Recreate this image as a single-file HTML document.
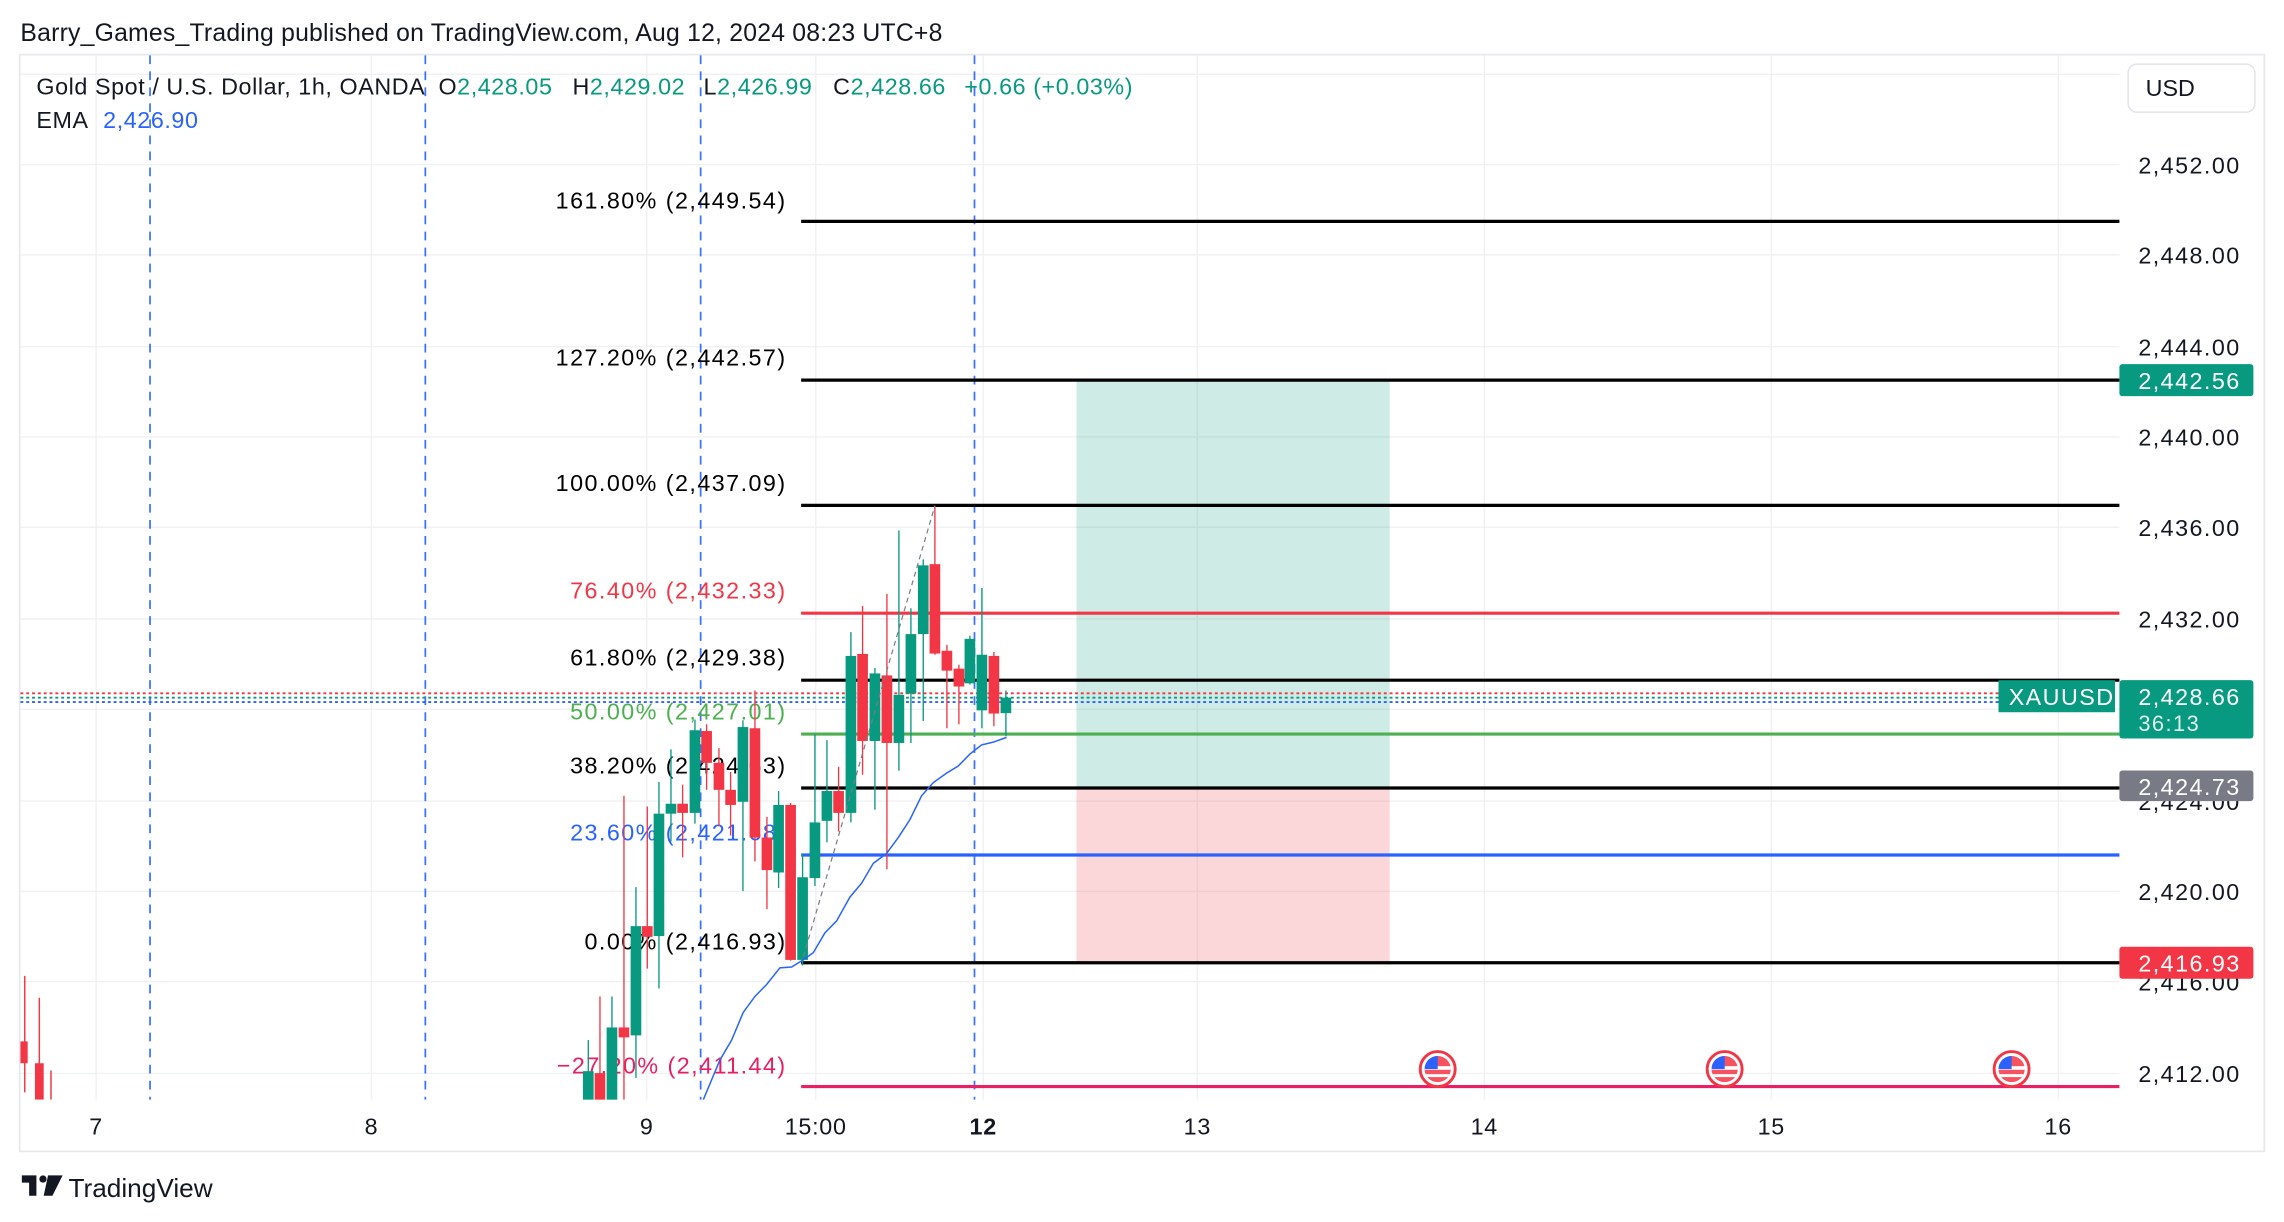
<!DOCTYPE html>
<html><head><meta charset="utf-8"><style>
html,body{margin:0;padding:0;background:#fff;}
svg{display:block;}
text{font-family:"Liberation Sans",sans-serif;}
</style></head><body>
<svg width="2284" height="1222" viewBox="0 0 1568 839" preserveAspectRatio="none" xmlns="http://www.w3.org/2000/svg">
<defs>
<clipPath id="plot"><rect x="14" y="38" width="1441" height="717"/></clipPath>
</defs>
<rect width="1568" height="839" fill="#fff"/>
<text x="14" y="28" font-size="17" fill="#131722" letter-spacing="0.15">Barry_Games_Trading published on TradingView.com, Aug 12, 2024 08:23 UTC+8</text>
<rect x="13.5" y="37.5" width="1541" height="753" fill="none" stroke="#e6e8ee" stroke-width="1.2"/>
<g stroke="#f0f1f3" stroke-width="1">
<line x1="14" x2="1455" y1="51" y2="51"/>
<line x1="14" x2="1455" y1="113" y2="113"/>
<line x1="14" x2="1455" y1="175" y2="175"/>
<line x1="14" x2="1455" y1="238" y2="238"/>
<line x1="14" x2="1455" y1="300" y2="300"/>
<line x1="14" x2="1455" y1="362" y2="362"/>
<line x1="14" x2="1455" y1="425" y2="425"/>
<line x1="14" x2="1455" y1="487" y2="487"/>
<line x1="14" x2="1455" y1="550" y2="550"/>
<line x1="14" x2="1455" y1="612" y2="612"/>
<line x1="14" x2="1455" y1="674" y2="674"/>
<line x1="14" x2="1455" y1="737" y2="737"/>
<line x1="66" x2="66" y1="38" y2="755"/>
<line x1="255" x2="255" y1="38" y2="755"/>
<line x1="444" x2="444" y1="38" y2="755"/>
<line x1="560" x2="560" y1="38" y2="755"/>
<line x1="675" x2="675" y1="38" y2="755"/>
<line x1="822" x2="822" y1="38" y2="755"/>
<line x1="1019" x2="1019" y1="38" y2="755"/>
<line x1="1216" x2="1216" y1="38" y2="755"/>
<line x1="1413" x2="1413" y1="38" y2="755"/>
</g>
<rect x="739" y="261" width="215" height="280" fill="#089981" fill-opacity="0.2"/>
<rect x="739" y="541" width="215" height="120" fill="#f23645" fill-opacity="0.2"/>
<g stroke="#2962ff" stroke-width="1.2" stroke-dasharray="6,5" opacity="0.9">
<line x1="103" x2="103" y1="38" y2="755"/>
<line x1="292" x2="292" y1="38" y2="755"/>
<line x1="481" x2="481" y1="38" y2="755"/>
<line x1="669" x2="669" y1="38" y2="755"/>
</g>
<g stroke-width="2.2">
<line x1="550" x2="1455" y1="152" y2="152" stroke="#000"/>
<line x1="550" x2="1455" y1="261" y2="261" stroke="#000"/>
<line x1="550" x2="1455" y1="347" y2="347" stroke="#000"/>
<line x1="550" x2="1455" y1="421" y2="421" stroke="#f23645"/>
<line x1="550" x2="1455" y1="467" y2="467" stroke="#000"/>
<line x1="550" x2="1455" y1="504" y2="504" stroke="#4caf50"/>
<line x1="550" x2="1455" y1="541" y2="541" stroke="#000"/>
<line x1="550" x2="1455" y1="587" y2="587" stroke="#2962ff"/>
<line x1="550" x2="1455" y1="661" y2="661" stroke="#000"/>
<line x1="550" x2="1455" y1="746" y2="746" stroke="#e91e63"/>
</g>
<g font-size="16" text-anchor="end" letter-spacing="1">
<text x="540" y="143" fill="#000">161.80% (2,449.54)</text>
<text x="540" y="251" fill="#000">127.20% (2,442.57)</text>
<text x="540" y="337" fill="#000">100.00% (2,437.09)</text>
<text x="540" y="411" fill="#f23645">76.40% (2,432.33)</text>
<text x="540" y="457" fill="#000">61.80% (2,429.38)</text>
<text x="540" y="494" fill="#4caf50">50.00% (2,427.01)</text>
<text x="540" y="531" fill="#000">38.20% (2,424.63)</text>
<text x="540" y="577" fill="#2962ff">23.60% (2,421.68)</text>
<text x="540" y="652" fill="#000">0.00% (2,416.93)</text>
<text x="540" y="737" fill="#e91e63">−27.20% (2,411.44)</text>
</g>
<g stroke-width="1.3" stroke-dasharray="2,2" clip-path="url(#plot)">
<line x1="14" x2="1372" y1="476" y2="476" stroke="#f23645"/>
<line x1="14" x2="1372" y1="479" y2="479" stroke="#089981"/>
<line x1="14" x2="1372" y1="482" y2="482" stroke="#2962ff"/>
</g>
<g clip-path="url(#plot)">
<line x1="17" x2="17" y1="670" y2="750" stroke="#f23645" stroke-width="1"/>
<rect x="14" y="715" width="5" height="15" fill="#f23645"/>
<line x1="27" x2="27" y1="685" y2="755" stroke="#f23645" stroke-width="1"/>
<rect x="24" y="730" width="6" height="25" fill="#f23645"/>
<line x1="35" x2="35" y1="735" y2="755" stroke="#f23645" stroke-width="1"/>
</g>
<g clip-path="url(#plot)">
<g transform="translate(370.7,329.5) scale(0.2288,0.2728)">
<g fill="#089981" stroke="#089981">
<line x1="145" x2="145" y1="1410" y2="1600" stroke-width="4"/><rect x="129" y="1488" width="32" height="112" stroke="none"/>
<line x1="216" x2="216" y1="1300" y2="1600" stroke-width="4"/><rect x="200" y="1378" width="32" height="222" stroke="none"/>
<line x1="288" x2="288" y1="1025" y2="1505" stroke-width="4"/><rect x="272" y="1123" width="32" height="275" stroke="none"/>
<line x1="357" x2="357" y1="760" y2="1280" stroke-width="4"/><rect x="341" y="840" width="32" height="308" stroke="none"/>
<line x1="393" x2="393" y1="678" y2="910" stroke-width="4"/><rect x="377" y="815" width="32" height="25" stroke="none"/>
<line x1="465" x2="465" y1="603" y2="865" stroke-width="4"/><rect x="449" y="630" width="32" height="208" stroke="none"/>
<line x1="609" x2="609" y1="605" y2="1035" stroke-width="4"/><rect x="593" y="622" width="32" height="188" stroke="none"/>
<line x1="716" x2="716" y1="783" y2="1027" stroke-width="4"/><rect x="700" y="818" width="32" height="170" stroke="none"/>
<line x1="788" x2="788" y1="940" y2="1222" stroke-width="4"/><rect x="772" y="1000" width="32" height="208" stroke="none"/>
<line x1="825" x2="825" y1="640" y2="1022" stroke-width="4"/><rect x="809" y="862" width="32" height="140" stroke="none"/>
<line x1="861" x2="861" y1="655" y2="912" stroke-width="4"/><rect x="845" y="783" width="32" height="75" stroke="none"/>
<line x1="933" x2="933" y1="383" y2="862" stroke-width="4"/><rect x="917" y="443" width="32" height="395" stroke="none"/>
<line x1="1005" x2="1005" y1="473" y2="830" stroke-width="4"/><rect x="989" y="487" width="32" height="170" stroke="none"/>
<line x1="1077" x2="1077" y1="127" y2="732" stroke-width="4"/><rect x="1061" y="541" width="32" height="121" stroke="none"/>
<line x1="1113" x2="1113" y1="323" y2="662" stroke-width="4"/><rect x="1097" y="388" width="32" height="150" stroke="none"/>
<line x1="1150" x2="1150" y1="200" y2="607" stroke-width="4"/><rect x="1134" y="215" width="32" height="173" stroke="none"/>
<line x1="1290" x2="1290" y1="392" y2="515" stroke-width="4"/><rect x="1274" y="400" width="32" height="112" stroke="none"/>
<line x1="1326" x2="1326" y1="272" y2="625" stroke-width="4"/><rect x="1310" y="440" width="32" height="140" stroke="none"/>
<line x1="1398" x2="1398" y1="530" y2="645" stroke-width="4"/><rect x="1382" y="548" width="32" height="39" stroke="none"/>
</g>
<g fill="#f23645" stroke="#f23645">
<line x1="180" x2="180" y1="1300" y2="1600" stroke-width="4"/><rect x="164" y="1493" width="32" height="107" stroke="none"/>
<line x1="252" x2="252" y1="795" y2="1600" stroke-width="4"/><rect x="236" y="1378" width="32" height="25" stroke="none"/>
<line x1="322" x2="322" y1="822" y2="1230" stroke-width="4"/><rect x="306" y="1123" width="32" height="27" stroke="none"/>
<line x1="428" x2="428" y1="767" y2="950" stroke-width="4"/><rect x="412" y="815" width="32" height="23" stroke="none"/>
<line x1="500" x2="500" y1="615" y2="780" stroke-width="4"/><rect x="484" y="632" width="32" height="80" stroke="none"/>
<line x1="537" x2="537" y1="675" y2="870" stroke-width="4"/><rect x="521" y="712" width="32" height="68" stroke="none"/>
<line x1="572" x2="572" y1="735" y2="895" stroke-width="4"/><rect x="556" y="780" width="32" height="38" stroke="none"/>
<line x1="645" x2="645" y1="530" y2="960" stroke-width="4"/><rect x="629" y="625" width="32" height="275" stroke="none"/>
<line x1="681" x2="681" y1="848" y2="1080" stroke-width="4"/><rect x="665" y="900" width="32" height="82" stroke="none"/>
<line x1="752" x2="752" y1="813" y2="1210" stroke-width="4"/><rect x="736" y="818" width="32" height="390" stroke="none"/>
<line x1="896" x2="896" y1="722" y2="885" stroke-width="4"/><rect x="880" y="783" width="32" height="55" stroke="none"/>
<line x1="968" x2="968" y1="317" y2="742" stroke-width="4"/><rect x="952" y="438" width="32" height="219" stroke="none"/>
<line x1="1041" x2="1041" y1="287" y2="980" stroke-width="4"/><rect x="1025" y="492" width="32" height="170" stroke="none"/>
<line x1="1185" x2="1185" y1="65" y2="440" stroke-width="4"/><rect x="1169" y="212" width="32" height="225" stroke="none"/>
<line x1="1221" x2="1221" y1="415" y2="625" stroke-width="4"/><rect x="1205" y="430" width="32" height="50" stroke="none"/>
<line x1="1257" x2="1257" y1="465" y2="615" stroke-width="4"/><rect x="1241" y="475" width="32" height="45" stroke="none"/>
<line x1="1362" x2="1362" y1="433" y2="620" stroke-width="4"/><rect x="1346" y="443" width="32" height="145" stroke="none"/>
</g>
<line x1="790" y1="1200" x2="1185" y2="65" stroke="#787b86" stroke-width="1.2" stroke-dasharray="5,4" vector-effect="non-scaling-stroke"/>
<polyline fill="none" stroke="#2962ff" stroke-width="1.5" vector-effect="non-scaling-stroke" points="490,1560 540,1460 575,1410 610,1340 645,1300 680,1270 720,1228 755,1226 790,1208 820,1190 855,1140 890,1110 930,1050 965,1015 1000,965 1040,940 1075,900 1110,855 1145,795 1180,762 1220,738 1255,720 1290,690 1325,667 1360,660 1400,648"/>
</g>
</g>
<g>
<g transform="translate(987,734)"><circle r="12" fill="#fff" stroke="#f23645" stroke-width="2"/><circle r="9" fill="#f7525f"/><rect x="-9" y="-2" width="18" height="2.5" fill="#fff"/><rect x="-9" y="3.5" width="18" height="2" fill="#fff"/><path d="M-9,0 A9,9 0 0 1 0,-9 L0,0 Z" fill="#2962ff"/></g>
<g transform="translate(1184,734)"><circle r="12" fill="#fff" stroke="#f23645" stroke-width="2"/><circle r="9" fill="#f7525f"/><rect x="-9" y="-2" width="18" height="2.5" fill="#fff"/><rect x="-9" y="3.5" width="18" height="2" fill="#fff"/><path d="M-9,0 A9,9 0 0 1 0,-9 L0,0 Z" fill="#2962ff"/></g>
<g transform="translate(1381,734)"><circle r="12" fill="#fff" stroke="#f23645" stroke-width="2"/><circle r="9" fill="#f7525f"/><rect x="-9" y="-2" width="18" height="2.5" fill="#fff"/><rect x="-9" y="3.5" width="18" height="2" fill="#fff"/><path d="M-9,0 A9,9 0 0 1 0,-9 L0,0 Z" fill="#2962ff"/></g>
</g>
<g font-size="16" letter-spacing="0.4">
<text x="25" y="65" fill="#131722">Gold Spot / U.S. Dollar, 1h, OANDA</text>
<text x="301" y="65" fill="#131722">O<tspan fill="#089981">2,428.05</tspan></text>
<text x="393" y="65" fill="#131722">H<tspan fill="#089981">2,429.02</tspan></text>
<text x="483" y="65" fill="#131722">L<tspan fill="#089981">2,426.99</tspan></text>
<text x="572" y="65" fill="#131722">C<tspan fill="#089981">2,428.66</tspan></text>
<text x="662" y="65" fill="#089981">+0.66 (+0.03%)</text>
<text x="25" y="88" fill="#131722">EMA <tspan dx="6" fill="#2962ff">2,426.90</tspan></text>
</g>
<rect x="1461" y="44" width="87" height="33" rx="6" fill="#fff" stroke="#e0e3eb"/>
<text x="1473" y="66" font-size="16" fill="#131722">USD</text>
<g font-size="16" fill="#131722" letter-spacing="1">
<text x="1468" y="119">2,452.00</text>
<text x="1468" y="181">2,448.00</text>
<text x="1468" y="244">2,444.00</text>
<text x="1468" y="306">2,440.00</text>
<text x="1468" y="368">2,436.00</text>
<text x="1468" y="431">2,432.00</text>
<text x="1468" y="556">2,424.00</text>
<text x="1468" y="618">2,420.00</text>
<text x="1468" y="680">2,416.00</text>
<text x="1468" y="743">2,412.00</text>
</g>
<g letter-spacing="1">
<rect x="1455" y="250" width="92" height="22" rx="2" fill="#089981"/>
<text x="1468" y="267" font-size="16" fill="#fff">2,442.56</text>
<rect x="1455" y="467" width="92" height="40" rx="2" fill="#089981"/>
<text x="1468" y="484" font-size="16" fill="#fff">2,428.66</text>
<text x="1468" y="502" font-size="15" fill="#e0f2ee">36:13</text>
<rect x="1372" y="467" width="80" height="22" fill="#089981"/>
<text x="1379" y="484" font-size="16" fill="#fff">XAUUSD</text>
<rect x="1455" y="529" width="92" height="21" rx="2" fill="#787b86"/>
<text x="1468" y="546" font-size="16" fill="#fff">2,424.73</text>
<rect x="1455" y="650" width="92" height="22" rx="2" fill="#f23645"/>
<text x="1468" y="667" font-size="16" fill="#fff">2,416.93</text>
</g>
<g font-size="16" fill="#131722" text-anchor="middle" letter-spacing="0.5">
<text x="66" y="779">7</text>
<text x="255" y="779">8</text>
<text x="444" y="779">9</text>
<text x="560" y="779">15:00</text>
<text x="675" y="779" font-weight="bold">12</text>
<text x="822" y="779">13</text>
<text x="1019" y="779">14</text>
<text x="1216" y="779">15</text>
<text x="1413" y="779">16</text>
</g>
<g fill="#131722">
<path d="M15,807 h10 v14 h-5 v-9 h-5 z"/>
<circle cx="29.5" cy="809.5" r="2.5"/>
<path d="M33,807 h10 l-7,14 h-6 z"/>
</g>
<text x="47" y="822" font-size="18" fill="#131722">TradingView</text>
</svg>
</body></html>
